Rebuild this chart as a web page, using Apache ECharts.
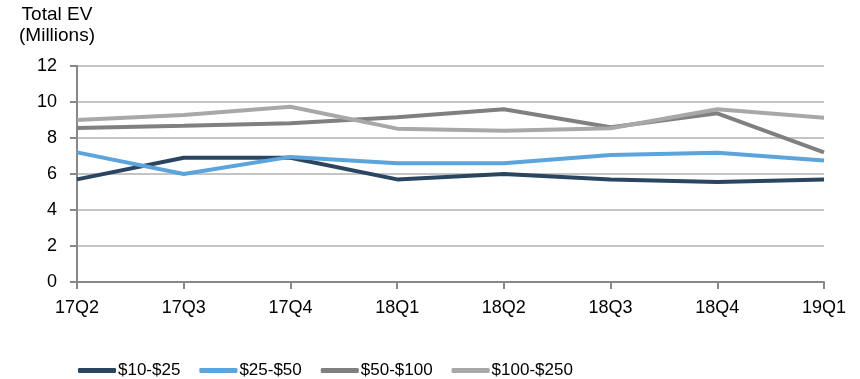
<!DOCTYPE html>
<html><head><meta charset="utf-8">
<script src="https://cdn.jsdelivr.net/npm/echarts@6/dist/echarts.min.js"></script>
<style>html,body{margin:0;padding:0;background:#fff}#c{width:860px;height:379px}</style>
</head><body><div id="c"></div>
<script>
const categories = ['17Q2','17Q3','17Q4','18Q1','18Q2','18Q3','18Q4','19Q1'];
const s10_25 = [5.7, 6.9, 6.9, 5.7, 6.0, 5.7, 5.55, 5.7];
const s25_50 = [7.2, 6.0, 6.95, 6.6, 6.6, 7.05, 7.18, 6.75];
const s50_100 = [8.55, 8.68, 8.82, 9.15, 9.6, 8.6, 9.37, 7.2];
const s100_250 = [9.0, 9.28, 9.74, 8.52, 8.4, 8.54, 9.6, 9.12];
const seriesNames = ['$10-$25','$25-$50','$50-$100','$100-$250'];
const colors = ['#2A4560','#5BA4DC','#808080','#A8A8A8'];
const yTicks = [0, 2, 4, 6, 8, 10, 12];

const chart = echarts.init(document.getElementById('c'));
const font = 'Liberation Sans, Arial, sans-serif';
const data = [s10_25, s25_50, s50_100, s100_250];
chart.setOption({
  animation: false,
  color: colors,
  title: {
    text: 'Total EV\n(Millions)',
    left: 57, top: 4, textAlign: 'center', padding: 0,
    textStyle: {fontFamily: font, fontSize: 19, fontWeight: 'normal', color: '#000', lineHeight: 21}
  },
  grid: {left: 77, right: 36, top: 66, bottom: 97},
  legend: {
    bottom: 0, left: 78, padding: 0,
    itemWidth: 38, itemHeight: 5, itemGap: 19,
    icon: 'roundRect',
    data: seriesNames,
    textStyle: {fontFamily: font, fontSize: 17, color: '#000', padding: [0,0,0,-3]}
  },
  xAxis: {
    type: 'category', data: categories, boundaryGap: false,
    axisLine: {lineStyle: {color: '#888', width: 2}},
    axisTick: {length: 7, lineStyle: {color: '#888', width: 2}},
    axisLabel: {fontFamily: font, fontSize: 18, color: '#000', margin: 17}
  },
  yAxis: {
    type: 'value', min: yTicks[0], max: yTicks[yTicks.length-1], interval: 2,
    axisLine: {show: true, lineStyle: {color: '#888', width: 2}},
    axisTick: {show: true, length: 7, lineStyle: {color: '#888', width: 2}},
    axisLabel: {fontFamily: font, fontSize: 18, color: '#000', margin: 20},
    splitLine: {lineStyle: {color: '#C4C4C4', width: 2}}
  },
  series: seriesNames.map((n, i) => ({
    name: n, type: 'line', data: data[i], symbol: 'none',
    lineStyle: {width: 4, color: colors[i]}, z: 2 + i
  }))
});
</script></body></html>
